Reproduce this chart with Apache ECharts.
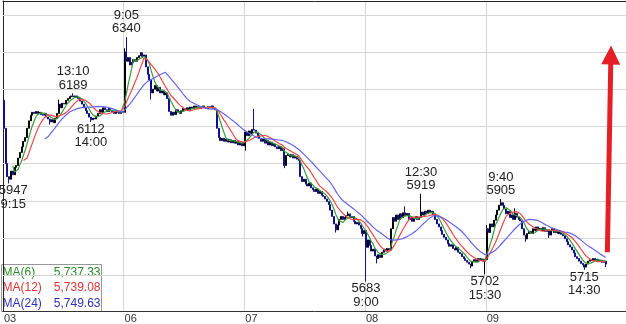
<!DOCTYPE html>
<html><head><meta charset="utf-8">
<script src="https://cdn.jsdelivr.net/npm/echarts@6/dist/echarts.min.js"></script>
<style>html,body{margin:0;padding:0;background:#fff}#c{width:626px;height:324px}</style>
</head><body><div id="c"></div>
<script>
// ---- data (5-minute bars, 9:00-11:30 & 12:30-15:30) ----
const days = ['03','06','07','08','09'];
const firstOpen = 6170;
const close03 = [6095,6000,5965,5958,5980,5970,5990,5995,6015,6030,
 6045,6060,6070,6095,6115,6130,6138,6135,6140,6135,
 6138,6132,6130,6135,6125,6120,6112,6118,6110,6122,
 6135,6160,6150,6162,6160,6170,6175,6180,6182,6180,
 6182,6178,6175,6168,6160,6150,6142,6135,6125,6118,
 6122,6120,6128,6135,6145,6138,6150,6145,6140,6148,
 6142,6140,6135,6142,6138,6135,6140,6138];
const close06 = [6300,6275,6285,6265,6272,6280,6275,6285,6290,6298,
 6288,6292,6260,6240,6225,6190,6200,6210,6195,6205,
 6190,6195,6185,6190,6175,6140,6130,6138,6132,6145,
 6140,6135,6142,6148,6145,6150,6145,6152,6148,6155,
 6150,6153,6148,6152,6155,6150,6148,6153,6150,6155,
 6148,6145,6095,6070,6062,6068,6060,6066,6058,6064,
 6056,6062,6055,6060,6050,6056,6048,6054];
const close07 = [6085,6075,6088,6080,6092,6090,6082,6075,6068,6060,
 6066,6055,6062,6050,6058,6048,6052,6045,6040,6046,
 6035,6040,5995,6022,6025,6018,6024,6015,6020,6012,
 6008,5965,5952,5958,5945,5940,5948,5935,5930,5925,
 5932,5920,5925,5915,5912,5905,5898,5890,5875,5858,
 5838,5822,5835,5850,5858,5850,5856,5860,5865,5855,
 5858,5845,5838,5842,5835,5826,5812,5820];
const close08 = [5775,5795,5780,5765,5770,5752,5745,5755,5748,5762,
 5770,5765,5772,5768,5825,5855,5845,5862,5850,5865,
 5855,5868,5860,5866,5850,5856,5845,5852,5858,5850,
 5856,5870,5862,5872,5866,5875,5868,5872,5862,5850,
 5838,5830,5820,5810,5802,5795,5785,5778,5782,5772,
 5768,5775,5762,5758,5750,5745,5740,5735,5730,5725,
 5738,5742,5736,5745,5740,5744,5738,5742];
const close09 = [5825,5815,5838,5830,5848,5862,5875,5888,5895,5888,
 5878,5865,5872,5855,5862,5850,5866,5856,5850,5846,
 5825,5808,5798,5812,5818,5812,5825,5820,5830,5822,
 5826,5820,5828,5818,5822,5808,5820,5825,5815,5820,
 5812,5816,5810,5806,5798,5790,5782,5776,5768,5760,
 5750,5745,5738,5732,5728,5722,5730,5738,5742,5740,
 5745,5740,5743,5738,5740,5735,5738,5730];
// extra wick extremes [bar index, price]
const wickHighs = [[0,6172],[31,6172],[39,6189],[68,6310],[69,6340],[141,6147],[194,5871],[226,5885],[235,5919],[272,5835],[280,5905],[288,5880]];
const wickLows = [[3,5947],[26,6105],[49,6112],[83,6172],[136,6035],[158,5988],[187,5815],[202,5804],[204,5683],[210,5732],[263,5719],[271,5702],[294,5790],[307,5800],[327,5715],[339,5722]];
// annotations [bar index, time, price]
const highNotes = [[69,'9:05',6340],[39,'13:10',6189],[235,'12:30',5919],[280,'9:40',5905]];
const lowNotes = [[3,'9:15',5947],[49,'14:00',6112],[204,'9:00',5683],[271,'15:30',5702],[327,'14:30',5715]];
const gridLevels = [5700,5800,5900,6000,6100,6200,6300,6400];
const maPeriods = [6,12,24];
const maNames = ['MA(6)','MA(12)','MA(24)'];
const maLast = ['5,737.33','5,739.08','5,749.63'];
const arrowFrom = 5762, arrowTo = 6292;

// ---- build ----
function fmt(m){ return Math.floor(m/60)+':'+String(m%60).padStart(2,'0'); }
const times = [];
for (let m = 540; m <= 690; m += 5) times.push(fmt(m));
for (let m = 750; m <= 930; m += 5) times.push(fmt(m));
const perDay = times.length;
const categories = [];
days.forEach(d => times.forEach(t => categories.push(d + ' ' + t)));
const nData = categories.length;
for (let k = 1; k <= 11; k++) categories.push('pad' + k);

const closes = [].concat(close03, close06, close07, close08, close09);
const hiMap = new Map(wickHighs), loMap = new Map(wickLows);
const ohlc = closes.map((c, i) => {
  const o = i === 0 ? firstOpen : closes[i-1];
  let h = Math.max(o, c), l = Math.min(o, c);
  if (hiMap.has(i)) h = Math.max(h, hiMap.get(i));
  if (loMap.has(i)) l = Math.min(l, loMap.get(i));
  return [o, c, l, h];
});
function ma(n){
  return closes.map((_, i) => {
    if (i < n - 1) return '-';
    let s = 0; for (let j = i - n + 1; j <= i; j++) s += closes[j];
    return +(s / n).toFixed(2);
  });
}
const FONT = 'Liberation Sans, Arial, sans-serif';
const maColors = ['#3a9a3a', '#f04848', '#6464ee'];
const legColors = ['#2a8a2a', '#e03535', '#3030b5'];

const notePts = highNotes.map(([i, t, p]) => ({
  coord: [categories[i], p],
  label: { position: 'top', distance: 1, formatter: t + '\n' + p }
})).concat(lowNotes.map(([i, t, p]) => ({
  coord: [categories[i], p],
  label: { position: 'bottom', distance: 0, offset: i === 3 ? [4, 0] : [0, 0], formatter: p + '\n' + t }
})));

const chart = echarts.init(document.getElementById('c'), null, { renderer: 'canvas' });
chart.setOption({
  animation: false,
  backgroundColor: '#fff',
  grid: { left: 3, right: 0, top: 1, bottom: 12 },
  xAxis: [{
    type: 'category', data: categories, boundaryGap: true,
    axisLine: { lineStyle: { color: '#333', width: 1 } },
    axisTick: { show: false },
    axisLabel: {
      interval: (i) => i % perDay === 0 && i < nData,
      formatter: (v) => v.split(' ')[0],
      align: 'left', fontSize: 11, color: '#333', margin: 2, fontFamily: FONT
    },
    splitLine: { show: true, interval: (i) => i > 0 && i % perDay === 0 && i < nData, lineStyle: { color: '#d6d6d6', width: 1 } }
  }, {
    type: 'category', data: categories, position: 'top', boundaryGap: true,
    axisLine: { lineStyle: { color: '#222', width: 1 } },
    axisTick: { show: false }, axisLabel: { show: false }, splitLine: { show: false }
  }],
  yAxis: {
    type: 'value', min: 5604, max: 6437, scale: true,
    axisLine: { show: true, lineStyle: { color: '#222' } },
    axisTick: { show: false }, axisLabel: { show: false }, splitLine: { show: false }
  },
  series: [{
    type: 'line', data: [], silent: true,
    markLine: {
      silent: true, z: 1, symbol: 'none', label: { show: false }, animation: false,
      lineStyle: { color: '#d6d6d6', width: 1, type: 'solid' },
      data: gridLevels.map(v => ({ yAxis: v }))
    }
  }, {
    type: 'candlestick', data: ohlc, barWidth: 1.5, z: 2,
    itemStyle: { color: '#000000', color0: '#101088', borderColor: '#000000', borderColor0: '#101088', borderWidth: 1 },
    markPoint: {
      symbol: 'circle', symbolSize: 1, silent: true, animation: false,
      itemStyle: { color: 'rgba(0,0,0,0)' },
      label: { color: '#222', fontSize: 13, lineHeight: 13.5, fontFamily: FONT, align: 'center' },
      data: notePts
    }
  }].concat(maPeriods.map((n, k) => ({
    type: 'line', name: maNames[k], data: ma(n), showSymbol: false, z: 3 + k, silent: true,
    lineStyle: { width: 1.2, color: maColors[k] }, itemStyle: { color: maColors[k] }
  }))).concat([{
    type: 'line', data: [], silent: true,
    markLine: {
      silent: true, z: 10, animation: false, label: { show: false },
      lineStyle: { color: '#e41f26', width: 5, type: 'solid' },
      data: [[
        { coord: [categories[nData], arrowFrom], symbol: 'none' },
        { coord: [categories[nData + 2], arrowTo], symbol: 'triangle', symbolSize: 19 }
      ]]
    }
  }]),
  graphic: [{
    type: 'group', left: 1, top: 264, z: 100,
    children: [
      { type: 'rect', shape: { x: 0, y: 0, width: 100, height: 47 }, style: { fill: '#fff', stroke: '#999', lineWidth: 1 } }
    ].concat(maNames.map((nm, k) => ({
      type: 'text', x: 1, y: [8.5, 23.5, 39][k],
      style: { text: nm, fill: legColors[k], font: '12px ' + FONT, verticalAlign: 'middle', align: 'left' }
    }))).concat(maLast.map((v, k) => ({
      type: 'text', x: 99, y: [8.5, 23.5, 39][k],
      style: { text: v, fill: legColors[k], font: '12px ' + FONT, verticalAlign: 'middle', align: 'right' }
    })))
  }]
});
</script>
</body></html>
